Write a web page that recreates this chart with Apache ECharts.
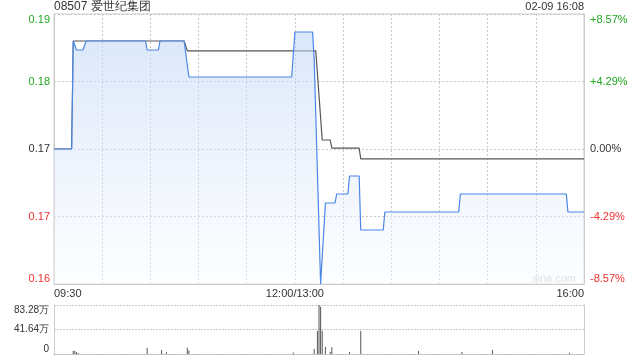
<!DOCTYPE html>
<html>
<head>
<meta charset="utf-8">
<script src="https://cdn.jsdelivr.net/npm/echarts@6/dist/echarts.min.js"></script>
<style>
html,body{margin:0;padding:0;background:#fff;}
#chart{width:640px;height:360px;}
</style>
</head>
<body>
<div id="chart"></div>
<script>
// ---- data ----
const titleText = '08507 爱世纪集团';
const dateText = '02-09 16:08';
const prevClose = 0.175;
// price line: [minute since 09:30 (lunch removed), price]
const pricePoints = [
  [0,0.175],[11,0.175],[12,0.187],[13,0.187],[14,0.186],[18,0.186],[20,0.187],
  [57,0.187],[58,0.186],[65,0.186],[66,0.187],[81,0.187],[84,0.183],
  [148,0.183],[150,0.188],[161,0.188],[162,0.185],[163,0.185],[166,0.160],
  [169,0.169],[175,0.169],[176,0.170],[183,0.170],[184,0.172],[190,0.172],
  [191,0.166],[205,0.166],[206,0.168],[252,0.168],[253,0.170],[319,0.170],
  [320,0.168],[330,0.168]
];
// average price line
const avgPoints = [
  [0,0.175],[11,0.175],[12,0.187],[81,0.187],[83,0.1859],[163,0.1859],
  [167,0.1760],[172,0.1760],[173,0.1751],[190,0.1751],[191,0.1739],[330,0.1739]
];
// volume bars: [minute, shares]
const volumePoints = [
  [12,55000],[13,50000],[14,30000],[15,15000],[58,107000],[67,68000],[70,30000],
  [83,107000],[84,60000],[149,25000],[162,85000],[164,391000],[165,832800],
  [166,804000],[167,396000],[169,119000],[172,34000],[173,114000],[184,34000],
  [191,391000],[227,50000],[254,34000],[273,68000],[321,20000]
];
const priceTickLabels = ['0.16','0.17','0.17','0.18','0.19'];
const pctTickLabels = ['-8.57%','-4.29%','0.00%','+4.29%','+8.57%'];
const volTickLabels = ['0','41.64万','83.28万'];
const timeTickMinutes = [0,150,330];
const timeTickLabels = ['09:30','12:00/13:00','16:00'];
const priceMin = 0.16, priceMax = 0.19, priceStep = 0.0075;
const volMax = 832800, volStep = 416400;

// ---- styles ----
const FONT = 'Liberation Sans, Arial, sans-serif';
const GREEN = '#22a822', RED = '#f03030', DARK = '#333';
const tickColor = i => (i < 2 ? RED : (i === 2 ? DARK : GREEN));
const gridLine = {show:true, lineStyle:{color:'#c8c8c8', type:[2,2], width:1}};

const chart = echarts.init(document.getElementById('chart'), null, {renderer:'canvas'});
chart.setOption({
  animation:false,
  backgroundColor:'#fff',
  textStyle:{fontFamily:FONT},
  grid:[
    {left:54, right:56, top:14, height:270, show:true, borderColor:'#ccc', borderWidth:1},
    {left:54, right:56, top:305, height:49, show:false}
  ],
  xAxis:[
    {type:'value', gridIndex:0, min:0, max:330, interval:30,
     axisLine:{show:true, lineStyle:{color:'#ccc'}}, axisTick:{show:false},
     splitLine:gridLine,
     axisLabel:{show:true, fontSize:11, color:DARK, margin:4, fontFamily:FONT,
       showMinLabel:true, showMaxLabel:true, alignMinLabel:'left', alignMaxLabel:'right',
       formatter:v => { const k = timeTickMinutes.indexOf(Math.round(v)); return k >= 0 ? timeTickLabels[k] : ''; }}},
    {type:'value', gridIndex:1, min:0, max:330, interval:30,
     axisLine:{show:true, lineStyle:{color:'#bbb', type:[2,1]}}, axisTick:{show:false},
     splitLine:{show:false}, axisLabel:{show:false}}
  ],
  yAxis:[
    {type:'value', gridIndex:0, min:priceMin, max:priceMax, interval:priceStep, position:'left',
     axisLine:{show:true, lineStyle:{color:'#ccc'}}, axisTick:{show:false},
     splitLine:gridLine,
     axisLabel:{fontSize:11, margin:4, fontFamily:FONT,
       verticalAlignMinLabel:'bottom', verticalAlignMaxLabel:'top',
       formatter:(v,i) => priceTickLabels[i],
       color:(v,i) => tickColor(i)}},
    {type:'value', gridIndex:0, min:priceMin, max:priceMax, interval:priceStep, position:'right',
     axisLine:{show:true, lineStyle:{color:'#ccc'}}, axisTick:{show:false},
     splitLine:{show:false},
     axisLabel:{fontSize:11, margin:6, fontFamily:FONT,
       verticalAlignMinLabel:'bottom', verticalAlignMaxLabel:'top',
       formatter:(v,i) => pctTickLabels[i],
       color:(v,i) => tickColor(i)}},
    {type:'value', gridIndex:1, min:0, max:volMax, interval:volStep, position:'left',
     axisLine:{show:true, lineStyle:{color:'#ccc'}}, axisTick:{show:false},
     splitLine:{show:true, lineStyle:{color:'#c8c8c8', type:[2,1]}},
     axisLabel:{fontSize:10, margin:5, color:DARK, fontFamily:FONT,
       verticalAlignMinLabel:'bottom', verticalAlignMaxLabel:'top',
       formatter:(v,i) => volTickLabels[i]}},
    {type:'value', gridIndex:1, min:0, max:volMax, interval:volStep, position:'right',
     axisLine:{show:true, lineStyle:{color:'#ccc'}}, axisTick:{show:false},
     splitLine:{show:false}, axisLabel:{show:false}}
  ],
  series:[
    {type:'line', xAxisIndex:0, yAxisIndex:0, data:pricePoints, symbol:'none', smooth:false,
     lineStyle:{color:'#4a86e8', width:1.2},
     areaStyle:{color:new echarts.graphic.LinearGradient(0,0,0,1,[
       {offset:0, color:'rgba(190,212,246,0.8)'},
       {offset:1, color:'rgba(250,252,255,0.6)'}])},
     z:3},
    {type:'line', xAxisIndex:0, yAxisIndex:0, data:avgPoints, symbol:'none', smooth:false,
     lineStyle:{color:'#555', width:1.2}, z:2},
    {type:'bar', xAxisIndex:1, yAxisIndex:2, data:volumePoints, barWidth:1,
     itemStyle:{color:'#555'}, z:3}
  ],
  graphic:[
    {type:'text', left:54, top:1, style:{text:titleText, fontSize:12, fill:DARK, fontFamily:FONT}},
    {type:'text', right:56, top:1, style:{text:dateText, fontSize:11, fill:DARK, fontFamily:FONT}},
    {type:'text', left:532, top:273, style:{text:'sina.com', fontSize:11, fill:'#ccc', fontFamily:FONT}}
  ]
});
</script>
</body>
</html>
